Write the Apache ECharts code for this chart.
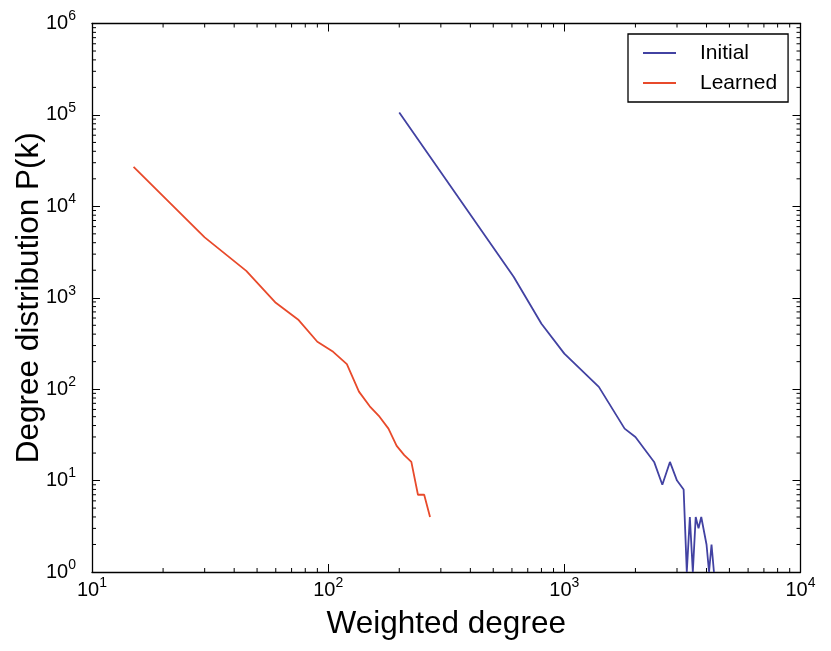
<!DOCTYPE html>
<html>
<head>
<meta charset="utf-8">
<script src="https://cdn.jsdelivr.net/npm/echarts@6/dist/echarts.min.js"></script>
<style>
  html, body { margin: 0; padding: 0; background: #fff; }
  #chart { width: 831px; height: 651px; }
</style>
</head>
<body>
<div id="chart"></div>
<script>
// ---- Data ----
var initialDegree = [200, 610, 800, 1000, 1400, 1800, 2000, 2400, 2600, 2800, 3000, 3200, 3300, 3400, 3500, 3600, 3700, 3800, 4000, 4100, 4200, 4300];
var initialProb   = [106000, 1700, 520, 245, 106, 37, 30, 16, 9, 16, 10, 8, 1, 4, 1, 4, 3, 4, 2, 1, 2, 1];

var learnedDegree = [15, 30, 45, 60, 75, 90, 105, 120, 135, 150, 165, 180, 195, 210, 225, 240, 255, 270];
var learnedProb   = [27000, 4570, 1970, 880, 570, 330, 256, 188, 94, 65, 50, 37, 24, 19, 16, 7, 7, 4];

var seriesNames = ['Initial', 'Learned'];
var seriesColors = ['#4242A2', '#E84A2B'];

var xMin = 10, xMax = 10000;
var yMin = 1, yMax = 1000000;

// minor tick values (2..9 x 10^k)
var xMinorTicks = [];
for (var e = 1; e < 4; e++) for (var m = 2; m <= 9; m++) xMinorTicks.push(m * Math.pow(10, e));
var yMinorTicks = [];
for (var e2 = 0; e2 < 6; e2++) for (var m2 = 2; m2 <= 9; m2++) yMinorTicks.push(m2 * Math.pow(10, e2));

function pairs(xs, ys) { return xs.map(function (x, i) { return [x, ys[i]]; }); }

var FONT = 'Liberation Sans, Arial, Helvetica, sans-serif';

function powLabel(v) {
  var ex = Math.round(Math.log10(v));
  return '{b|10}{s|' + ex + '}';
}
var richLabel = {
  b: { fontSize: 20, lineHeight: 28, fontFamily: FONT, color: '#000' },
  s: { fontSize: 14, lineHeight: 14, verticalAlign: 'top', fontFamily: FONT, color: '#000' }
};

var axisCommon = {
  type: 'log',
  logBase: 10,
  nameMoveOverlap: false,
  axisLine: { show: true, lineStyle: { color: '#000', width: 1.3 } },
  axisTick: { show: true, inside: true, length: 8, lineStyle: { color: '#000', width: 1 } },
  splitLine: { show: false },
  minorTick: { show: false },
  minorSplitLine: { show: false }
};

var minorData = xMinorTicks.map(function (v) { return [v, 1, 0]; })
  .concat(yMinorTicks.map(function (v) { return [10, v, 1]; }));

var option = {
  animation: false,
  backgroundColor: '#fff',
  grid: { left: 92, top: 23.5, right: 30.5, bottom: 79, containLabel: false, outerBoundsMode: 'none' },
  legend: {
    data: seriesNames,
    orient: 'vertical',
    left: 628,
    top: 34,
    width: 161,
    padding: [8, 11, 8, 15],
    itemGap: 8,
    itemWidth: 33,
    itemHeight: 2,
    icon: 'rect',
    borderColor: '#000',
    borderWidth: 1.3,
    backgroundColor: '#fff',
    textStyle: { fontSize: 21, fontFamily: FONT, color: '#000', padding: [0, 0, 0, 19], lineHeight: 22 }
  },
  xAxis: [
    Object.assign({}, axisCommon, {
      min: xMin, max: xMax,
      position: 'bottom',
      name: 'Weighted degree',
      nameLocation: 'middle',
      nameGap: 36,
      nameTextStyle: { fontSize: 31.5, fontFamily: FONT, color: '#000', verticalAlign: 'top' },
      axisLabel: { show: true, margin: 4, formatter: powLabel, rich: richLabel }
    }),
    Object.assign({}, axisCommon, {
      min: xMin, max: xMax,
      position: 'top',
      axisLabel: { show: false }
    })
  ],
  yAxis: [
    Object.assign({}, axisCommon, {
      min: yMin, max: yMax,
      position: 'left',
      name: 'Degree distribution P(k)',
      nameLocation: 'middle',
      nameGap: 47,
      nameTextStyle: { fontSize: 31.5, fontFamily: FONT, color: '#000' },
      axisLabel: { show: true, margin: 16, formatter: powLabel, rich: richLabel }
    }),
    Object.assign({}, axisCommon, {
      min: yMin, max: yMax,
      position: 'right',
      axisLabel: { show: false }
    })
  ],
  series: [
    {
      name: seriesNames[0],
      type: 'line',
      xAxisIndex: 0, yAxisIndex: 0,
      data: pairs(initialDegree, initialProb),
      showSymbol: false,
      symbol: 'none',
      lineStyle: { color: seriesColors[0], width: 1.8 },
      itemStyle: { color: seriesColors[0] },
      clip: true
    },
    {
      name: seriesNames[1],
      type: 'line',
      xAxisIndex: 0, yAxisIndex: 0,
      data: pairs(learnedDegree, learnedProb),
      showSymbol: false,
      symbol: 'none',
      lineStyle: { color: seriesColors[1], width: 1.8 },
      itemStyle: { color: seriesColors[1] },
      clip: true
    },
    {
      name: 'minorTicks',
      type: 'custom',
      xAxisIndex: 0, yAxisIndex: 0,
      silent: true,
      clip: false,
      data: minorData,
      encode: { x: 0, y: 1 },
      renderItem: function (params, api) {
        var cs = params.coordSys;
        var isY = api.value(2) === 1;
        var len = 4;
        var style = { stroke: '#000', lineWidth: 1 };
        if (!isY) {
          var px = api.coord([api.value(0), 1])[0];
          return {
            type: 'group',
            children: [
              { type: 'line', shape: { x1: px, y1: cs.y + cs.height, x2: px, y2: cs.y + cs.height - len }, style: style },
              { type: 'line', shape: { x1: px, y1: cs.y, x2: px, y2: cs.y + len }, style: style }
            ]
          };
        } else {
          var py = api.coord([10, api.value(1)])[1];
          return {
            type: 'group',
            children: [
              { type: 'line', shape: { x1: cs.x, y1: py, x2: cs.x + len, y2: py }, style: style },
              { type: 'line', shape: { x1: cs.x + cs.width, y1: py, x2: cs.x + cs.width - len, y2: py }, style: style }
            ]
          };
        }
      }
    }
  ]
};

var chart = echarts.init(document.getElementById('chart'), null, { renderer: 'canvas' });
chart.setOption(option);
</script>
</body>
</html>
